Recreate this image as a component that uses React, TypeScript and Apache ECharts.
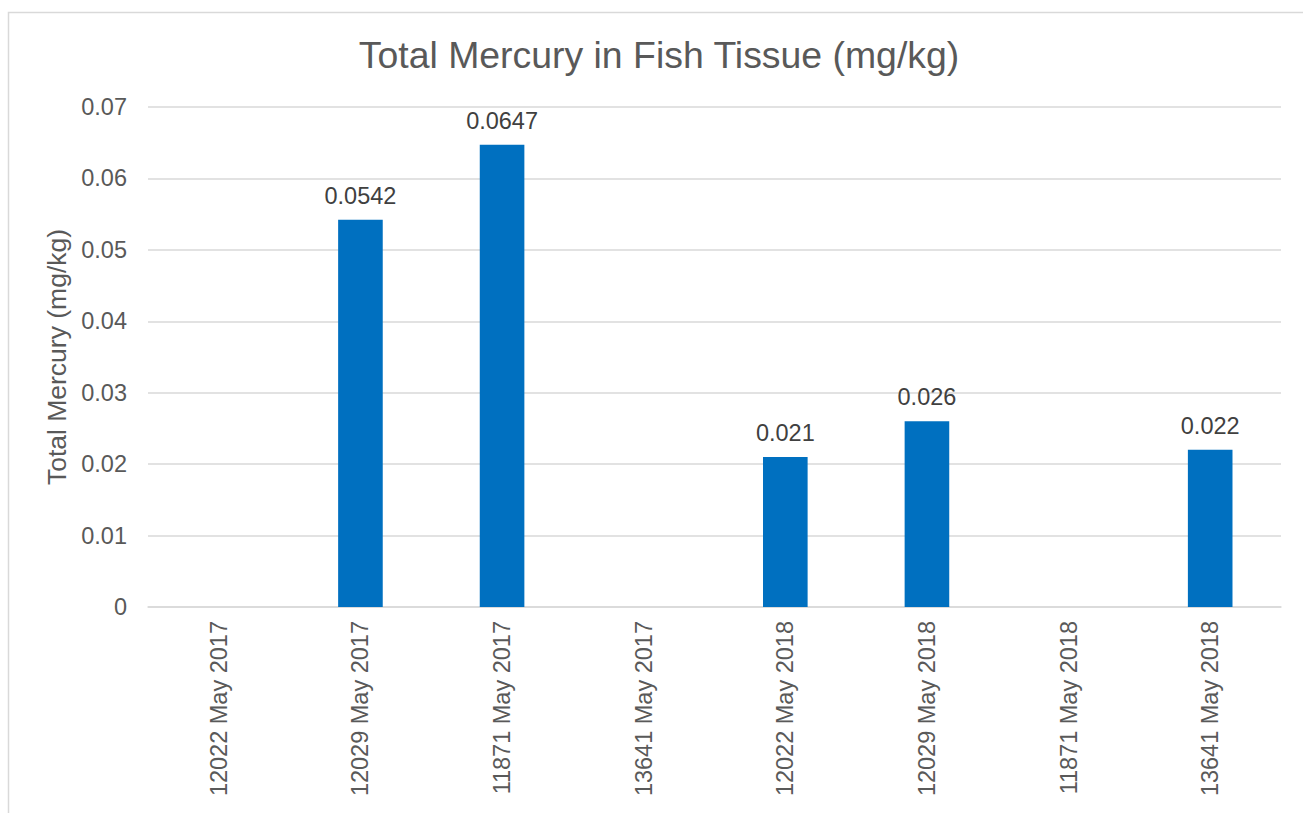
import React, { useEffect, useRef } from "react";
import * as echarts from "echarts";

const titleText = "Total Mercury in Fish Tissue (mg/kg)";
const yAxisName = "Total Mercury (mg/kg)";
const categories = [
  "12022 May 2017",
  "12029 May 2017",
  "11871 May 2017",
  "13641 May 2017",
  "12022 May 2018",
  "12029 May 2018",
  "11871 May 2018",
  "13641 May 2018",
];
const mercury: (number | null)[] = [null, 0.0542, 0.0647, null, 0.021, 0.026, null, 0.022];
const yMin = 0;
const yMax = 0.07;
const yStep = 0.01;

export default function App() {
  const ref = useRef<HTMLDivElement>(null);
  useEffect(() => {
    if (!ref.current) return;
    const chart = echarts.init(ref.current, undefined, { renderer: "svg" });
    const font = "'Liberation Sans', Arial, sans-serif";
    chart.setOption({
      animation: false,
      backgroundColor: "#ffffff",
      textStyle: { fontFamily: font },
      title: {
        text: titleText,
        left: 659,
        top: 36,
        textAlign: "center",
        padding: 0,
        textStyle: { fontFamily: font, fontSize: 37.4, fontWeight: "normal", color: "#595959" },
      },
      graphic: [
        {
          type: "polyline",
          shape: { points: [[8.5, 813], [8.5, 12.5], [1303, 12.5]] },
          style: { stroke: "#d9d9d9", lineWidth: 1.5, fill: "none" },
          silent: true,
        },
      ],
      grid: { left: 148, right: 22, top: 107, bottom: 206, containLabel: false },
      xAxis: {
        type: "category",
        data: categories,
        axisLine: { show: true, lineStyle: { color: "#d9d9d9", width: 1.5 } },
        axisTick: { show: false },
        axisLabel: {
          rotate: 90,
          margin: 14,
          interval: 0,
          color: "#595959",
          fontSize: 23.5,
          fontFamily: font,
        },
      },
      yAxis: {
        type: "value",
        min: yMin,
        max: yMax,
        interval: yStep,
        name: yAxisName,
        nameLocation: "middle",
        nameGap: 74,
        nameTextStyle: { color: "#595959", fontSize: 26.5, fontFamily: font },
        axisLine: { show: false },
        axisTick: { show: false },
        axisLabel: {
          margin: 21,
          color: "#595959",
          fontSize: 23.5,
          fontFamily: font,
          formatter: (v: number) => (v === 0 ? "0" : String(Math.round(v * 100) / 100)),
        },
        splitLine: { show: true, lineStyle: { color: "#d9d9d9", width: 1.5 } },
      },
      series: [
        {
          type: "bar",
          data: mercury,
          barWidth: "31.5%",
          itemStyle: { color: "#0070c0" },
          label: {
            show: true,
            position: "top",
            distance: 12,
            color: "#404040",
            fontSize: 23.5,
            fontFamily: font,
            formatter: (p: any) => String(p.value),
          },
        },
      ],
    });
    return () => chart.dispose();
  }, []);
  return (
    <div
      ref={ref}
      style={{ position: "absolute", left: 0, top: 0, width: 1303, height: 813 }}
    />
  );
}
